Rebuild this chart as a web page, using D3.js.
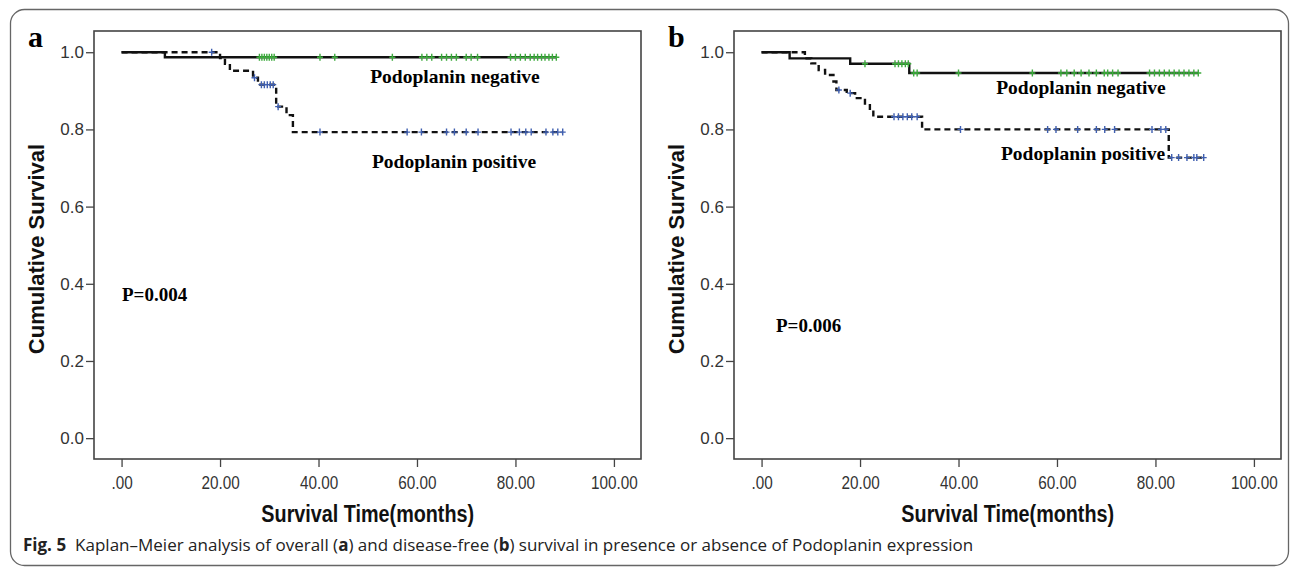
<!DOCTYPE html>
<html>
<head>
<meta charset="UTF-8">
<title>Kaplan-Meier Podoplanin</title>
<script src="https://d3js.org/d3.v7.min.js"></script>
<style>
  body{ margin:0; background:#fff; }
  svg{ display:block; }
  .tick text{ fill:#333; }
</style>
</head>
<body>
<svg id="chart"></svg>
<script>
// ----- data -----
const xTicks = [0, 20, 40, 60, 80, 100];
const yTicks = [0, 0.2, 0.4, 0.6, 0.8, 1.0];

// panel a (overall survival)
const aNegTimes = [0, 8.8];
const aNegSurv  = [1, 0.987];
const aNegCens  = [28, 28.5, 29, 29.5, 30, 30.5, 31, 40.3, 43.3, 55, 61, 62, 63, 65, 66, 67, 68,
                   70, 71, 72.3, 79, 80, 81, 82, 83, 83.8, 84.5, 85.3, 86, 86.8, 87.5, 88.3];
const aPosTimes = [0, 20, 21, 22, 26.7, 27.7, 31.4, 33.5, 34.8];
const aPosSurv  = [1, 0.985, 0.97, 0.952, 0.934, 0.916, 0.859, 0.837, 0.793];
const aPosCens  = [18.3, 27, 28.4, 29, 29.6, 30.2, 30.8, 31.8, 40.3, 58, 60.9, 66, 67.6, 70, 72.4,
                   79.1, 80.8, 82.1, 83.2, 86.2, 87.6, 88.6, 89.6];

// panel b (disease-free survival)
const bNegTimes = [0, 5.7, 18, 30];
const bNegSurv  = [1, 0.984, 0.97, 0.946];
const bNegCens  = [21, 27.1, 27.8, 28.5, 29.2, 29.8, 30.9, 31.6, 40, 55, 60.8, 62, 63.5, 64.9, 66.5,
                   68, 69.6, 70.3, 71.3, 72.4, 78.8, 79.8, 80.8, 81.8, 82.8, 83.8, 84.8, 85.8, 86.8, 87.8, 88.7];
const bPosTimes = [0, 8.8, 10.1, 11.6, 12.9, 14.6, 15.2, 17.3, 19, 21, 22, 22.7, 32.6, 82.7];
const bPosSurv  = [1, 0.984, 0.971, 0.954, 0.941, 0.924, 0.902, 0.894, 0.881, 0.863, 0.846, 0.833, 0.80, 0.727];
const bPosCens  = [15.7, 18, 26.9, 27.8, 28.7, 29.6, 30.5, 31.6, 40.4, 58.1, 59.8, 64.2, 68, 69.7, 71.7,
                   79.3, 81.1, 82.1, 83.3, 84.7, 86.4, 87.8, 88.4, 89.8];

const pValues = ["P=0.004", "P=0.006"];
// ------------------------------------

const width = 1292, height = 567;
const svg = d3.select("#chart").attr("width", width).attr("height", height);

// outer rounded frame
svg.append("rect")
  .attr("x", 10.5).attr("y", 9.5)
  .attr("width", 1278).attr("height", 556)
  .attr("rx", 14)
  .attr("fill", "none").attr("stroke", "#666").attr("stroke-width", 1.3);

const plotW = 547, plotH = 428;
const sans = "'Liberation Sans', Arial, sans-serif";
const serif = "'Liberation Serif', 'Times New Roman', serif";

const panels = [
  {label: "a", left: 94, neg: [aNegTimes, aNegSurv, aNegCens], pos: [aPosTimes, aPosSurv, aPosCens],
   p: pValues[0], pPos: [28, 0.355], negText: [361, 0.92], posText: [360, 0.70]},
  {label: "b", left: 734, neg: [bNegTimes, bNegSurv, bNegCens], pos: [bPosTimes, bPosSurv, bPosCens],
   p: pValues[1], pPos: [42, 0.275], negText: [347, 0.893], posText: [349, 0.72]}
];

function stepValue(times, surv, t) {
  const i = d3.bisectRight(times, t) - 1;
  return surv[Math.max(0, i)];
}

panels.forEach(pn => {
  const g = svg.append("g").attr("transform", `translate(${pn.left}, 31)`);

  const x = d3.scaleLinear().domain([-5.6, 105.5]).range([0, plotW]);
  const y = d3.scaleLinear().domain([-0.054, 1.055]).range([plotH, 0]);

  // y axis
  const ya = g.append("g")
    .call(d3.axisLeft(y).tickValues(yTicks).tickFormat(d3.format(".1f")).tickSize(8).tickPadding(2));
  ya.select(".domain").remove();
  ya.selectAll("line").attr("stroke", "#444").attr("stroke-width", 1.3);
  ya.selectAll("text").style("font-family", sans).style("font-size", "17px");

  // x axis (condensed labels)
  const xa = g.append("g").attr("transform", `translate(0, ${plotH})`)
    .call(d3.axisBottom(x).tickValues(xTicks)
      .tickFormat(d => d === 0 ? ".00" : d3.format(".2f")(d)).tickSize(8).tickPadding(9));
  xa.select(".domain").remove();
  xa.selectAll("line").attr("stroke", "#444").attr("stroke-width", 1.3);
  xa.selectAll("text")
    .style("font-family", sans)
    .style("font-size", "18px")
    .attr("transform", "scale(0.85,1)");

  // plot frame
  g.append("rect").attr("width", plotW).attr("height", plotH)
    .attr("fill", "none").attr("stroke", "#444").attr("stroke-width", 1.6);

  const line = d3.line().x(d => x(d[0])).y(d => y(d[1])).curve(d3.curveStepAfter);

  [[pn.neg, null, "#3dab3d"], [pn.pos, "6,4", "#3f5fb0"]].forEach(([ser, dash, col]) => {
    const [times, surv, cens] = ser;
    const end = d3.max(cens);
    const pts = times.map((t, i) => [t, surv[i]]);
    pts.push([end, surv[surv.length - 1]]);
    g.append("path").datum(pts)
      .attr("d", line)
      .attr("fill", "none").attr("stroke", "#111").attr("stroke-width", 2.4)
      .attr("stroke-dasharray", dash);

    g.selectAll(null).data(cens).enter().append("path")
      .attr("transform", d => `translate(${x(d)}, ${y(stepValue(times, surv, d))})`)
      .attr("d", "M-3,0H3M0,-3.5V3.5")
      .attr("stroke", col).attr("stroke-width", 1.4).attr("fill", "none");
  });

  // annotations
  g.append("text").attr("x", pn.negText[0]).attr("y", y(pn.negText[1]))
    .attr("text-anchor", "middle").style("font-family", serif).style("font-weight", "bold")
    .style("font-size", "19.5px").text("Podoplanin negative");
  g.append("text").attr("x", pn.posText[0]).attr("y", y(pn.posText[1]))
    .attr("text-anchor", "middle").style("font-family", serif).style("font-weight", "bold")
    .style("font-size", "19.5px").text("Podoplanin positive");
  g.append("text").attr("x", pn.pPos[0]).attr("y", y(pn.pPos[1]))
    .style("font-family", serif).style("font-weight", "bold")
    .style("font-size", "19px").text(pn.p);

  // axis titles
  g.append("text")
    .attr("text-anchor", "middle")
    .attr("transform", `translate(${-50}, ${plotH / 2 + 4})rotate(-90)`)
    .style("font-family", sans).style("font-weight", "bold")
    .style("font-size", "22px").attr("fill", "#111")
    .text("Cumulative Survival");
  g.append("text")
    .attr("text-anchor", "middle")
    .attr("transform", `translate(${x(50)}, ${plotH + 63})scale(0.86,1)`)
    .style("font-family", sans).style("font-weight", "bold")
    .style("font-size", "23px").attr("fill", "#111")
    .text("Survival Time(months)");

  // panel letter
  g.append("text").attr("x", -66).attr("y", 16)
    .style("font-family", serif).style("font-weight", "bold").style("font-size", "30px")
    .text(pn.label);
});

// caption
const cap = svg.append("text").attr("x", 23).attr("y", 551)
  .style("font-family", "'Open Sans', 'Noto Sans', sans-serif").style("font-size", "17px").attr("fill", "#222");
cap.append("tspan").style("font-weight", "bold").text("Fig. 5");
cap.append("tspan").attr("dx", 9).text("Kaplan\u2013Meier analysis of overall (");
cap.append("tspan").style("font-weight", "bold").text("a");
cap.append("tspan").text(") and disease-free (");
cap.append("tspan").style("font-weight", "bold").text("b");
cap.append("tspan").text(") survival in presence or absence of Podoplanin expression");
</script>
</body>
</html>
